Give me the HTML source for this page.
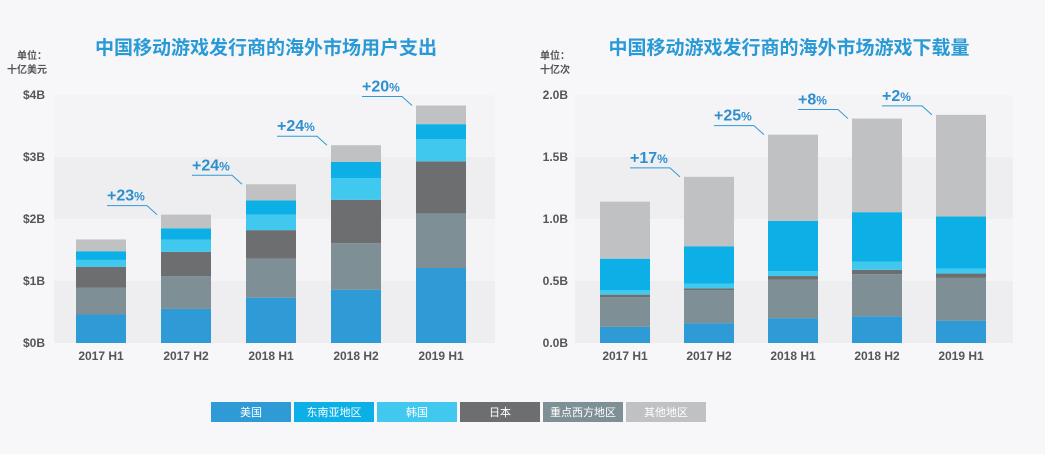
<!DOCTYPE html>
<html><head><meta charset="utf-8"><style>
body{margin:0;background:#f7f7f9;}
svg{display:block;font-family:"Liberation Sans","Noto Sans CJK SC",sans-serif;}
</style></head><body>
<svg id="svg" width="1045" height="454" viewBox="0 0 1045 454">
<rect x="0" y="0" width="1045" height="454" fill="#f7f7f9"/>
<text x="266" y="54" text-anchor="middle" font-size="19" font-weight="bold" fill="#2a9ad6">中国移动游戏发行商的海外市场用户支出</text>
<text x="789" y="54" text-anchor="middle" font-size="19" font-weight="bold" fill="#2a9ad6">中国移动游戏发行商的海外市场游戏下载量</text>
<text x="47" y="59" text-anchor="end" font-size="10" font-weight="bold" fill="#555">单位：</text>
<text x="47" y="73" text-anchor="end" font-size="10" font-weight="bold" fill="#555">十亿美元</text>
<text x="570" y="59" text-anchor="end" font-size="10" font-weight="bold" fill="#555">单位：</text>
<text x="570" y="73" text-anchor="end" font-size="10" font-weight="bold" fill="#555">十亿次</text>
<g id="left"></g><g id="right"></g><g id="legend"></g>
</svg>
<script>
const categories=["2017 H1","2017 H2","2018 H1","2018 H2","2019 H1"];
const seriesNames=["美国","重点西方地区","日本","韩国","东南亚地区","其他地区"];
const seriesColors=["#2e9bd6","#7f8f96","#6d6e70","#40c8ee","#0cb0e6","#c0c1c3"];
const spendUS=[0.46,0.55,0.73,0.86,1.21];
const spendWest=[0.43,0.53,0.63,0.75,0.88];
const spendJapan=[0.34,0.39,0.46,0.70,0.84];
const spendKorea=[0.11,0.20,0.25,0.35,0.36];
const spendSEA=[0.14,0.18,0.23,0.26,0.24];
const spendOther=[0.19,0.22,0.26,0.27,0.30];
const spendTicks=["$0B","$1B","$2B","$3B","$4B"];
const spendGrowth=["+23","+24","+24","+20"];
const dlUS=[0.13,0.16,0.20,0.215,0.18];
const dlWest=[0.24,0.265,0.31,0.34,0.345];
const dlJapan=[0.02,0.015,0.03,0.035,0.035];
const dlKorea=[0.035,0.04,0.04,0.065,0.04];
const dlSEA=[0.255,0.30,0.405,0.40,0.42];
const dlOther=[0.46,0.56,0.695,0.755,0.82];
const dlTicks=["0.0B","0.5B","1.0B","1.5B","2.0B"];
const dlGrowth=["+17","+25","+8","+2"];
const legendOrder=[0,4,3,2,1,5];

const NS="http://www.w3.org/2000/svg";
function mk(parent,tag,attrs){const e=document.createElementNS(NS,tag);for(const k in attrs)e.setAttribute(k,attrs[k]);parent.appendChild(e);return e;}

function drawChart(g,cfg){
  const y=v=>cfg.y0-(v/cfg.max)*(cfg.y0-cfg.yTop);
  const x=i=>cfg.x0+i*cfg.step;
  const n=cfg.ticks.length-1;
  for(let t=0;t<n;t++){
    const r=mk(g,"rect",{x:cfg.bandL,y:y((t+1)*cfg.max/n),width:cfg.bandR-cfg.bandL,height:y(t*cfg.max/n)-y((t+1)*cfg.max/n),fill:t%2==0?"#eeeef0":"#f4f4f6"});
    
    
  }
  cfg.ticks.forEach((lab,t)=>{
    const tx=mk(g,"text",{x:cfg.tickX,y:y(t*cfg.max/n)+4,"text-anchor":"end","font-size":"12","font-weight":"bold",fill:"#555"});
    tx.textContent=lab;
    
    
  });
  const tops=[];
  categories.forEach((c,i)=>{
    let acc=0;
    cfg.series.forEach((s,k)=>{
      const v=s[i];
      const r=mk(g,"rect",{x:x(i),y:y(acc+v),width:cfg.bw,height:y(acc)-y(acc+v),fill:seriesColors[k]});
      
      
      acc+=v;
    });
    tops.push(acc);
    const tx=mk(g,"text",{x:x(i)+cfg.bw/2,y:360,"text-anchor":"middle","font-size":"12","font-weight":"bold",fill:"#555"});
    tx.textContent=c;
    
    
  });
  cfg.growth.forEach((gr,j)=>{
    const i=j+1, bt=y(tops[i]), L=x(i)-54;
    const p=mk(g,"polyline",{points:`${L},${bt-9} ${L+40},${bt-9} ${x(i)-4},${bt}`,fill:"none",stroke:"#2e9bd6","stroke-width":"1"});
    
    
    const tx=mk(g,"text",{x:L,y:bt-14,"font-size":"16","font-weight":"bold",fill:"#2e8fcf"});
    tx.innerHTML=gr+'<tspan font-size="12">%</tspan>';
    
    
  });
}
drawChart(document.getElementById("left"),{y0:343,yTop:95,max:4,x0:76,step:85,bw:50,bandL:54,bandR:495,tickX:45,ticks:spendTicks,
  series:[spendUS,spendWest,spendJapan,spendKorea,spendSEA,spendOther],growth:spendGrowth});
drawChart(document.getElementById("right"),{y0:343,yTop:95,max:2,x0:600,step:84,bw:50,bandL:575,bandR:1013,tickX:568,ticks:dlTicks,
  series:[dlUS,dlWest,dlJapan,dlKorea,dlSEA,dlOther],growth:dlGrowth});
const lg=document.getElementById("legend");
legendOrder.forEach((k,j)=>{
  const r=mk(lg,"rect",{x:211+j*83,y:402,width:80,height:20,fill:seriesColors[k]});
  
  
  const t=mk(lg,"text",{x:251+j*83,y:416,"text-anchor":"middle","font-size":"11",fill:"#fff"});
  t.textContent=seriesNames[k];
  
  
});
</script>
</body></html>
